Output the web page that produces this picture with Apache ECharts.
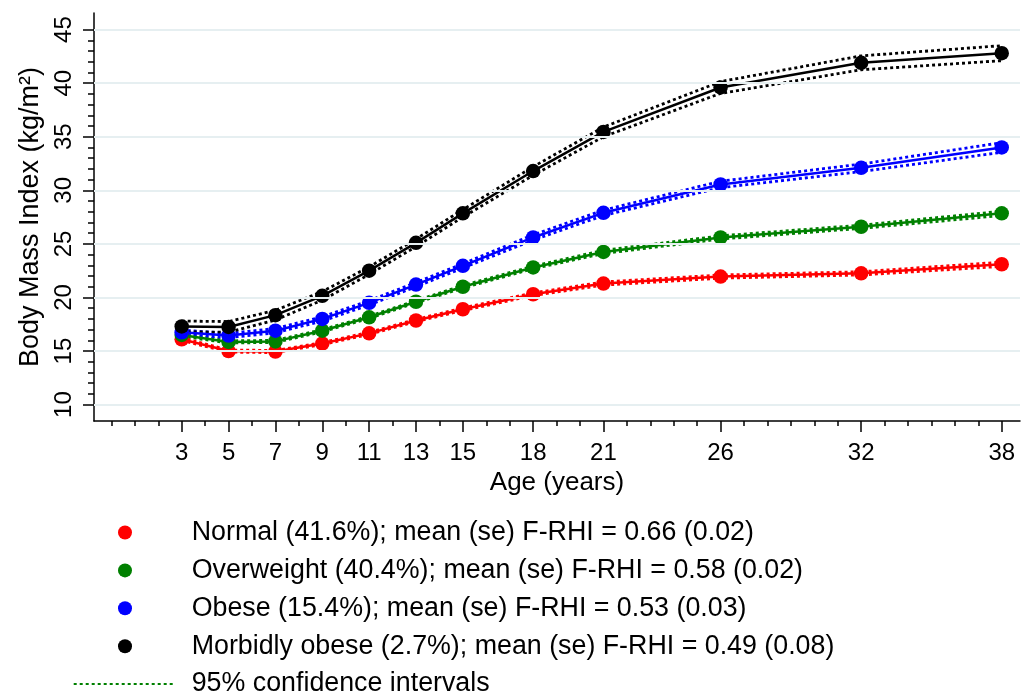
<!DOCTYPE html>
<html>
<head>
<meta charset="utf-8">
<script src="https://cdn.jsdelivr.net/npm/echarts@6/dist/echarts.min.js"></script>
<style>
html,body{margin:0;padding:0;background:#ffffff;}
#chart{width:1021px;height:695px;}
</style>
</head>
<body>
<div id="chart"></div>
<script>
// ---- data ----
const ages = [3, 5, 7, 9, 11, 13, 15, 18, 21, 26, 32, 38];
const xMajorTicks = [3, 5, 7, 9, 11, 13, 15, 18, 21, 26, 32, 38];
const xMinorTicks = [0,1,2,3,4,5,6,7,8,9,10,11,12,13,14,15,16,17,18,19,20,21,22,23,24,25,26,27,28,29,30,31,32,33,34,35,36,37,38];
const yMajorTicks = [10, 15, 20, 25, 30, 35, 40, 45];
const yMinorTicks = [10,11,12,13,14,15,16,17,18,19,20,21,22,23,24,25,26,27,28,29,30,31,32,33,34,35,36,37,38,39,40,41,42,43,44,45];

const groupNames = [
  "Normal (41.6%); mean (se) F-RHI = 0.66 (0.02)",
  "Overweight (40.4%); mean (se) F-RHI = 0.58 (0.02)",
  "Obese (15.4%); mean (se) F-RHI = 0.53 (0.03)",
  "Morbidly obese (2.7%); mean (se) F-RHI = 0.49 (0.08)"
];
const ciName = "95% confidence intervals";

const normalBMI   = [16.1, 15.0, 14.95, 15.7, 16.65, 17.85, 18.9, 20.3, 21.3, 21.95, 22.25, 23.1];
const normalLo    = [15.98, 14.9, 14.85, 15.6, 16.55, 17.75, 18.78, 20.18, 21.15, 21.8, 22.1, 22.9];
const normalHi    = [16.22, 15.1, 15.05, 15.8, 16.75, 17.95, 19.02, 20.42, 21.45, 22.1, 22.4, 23.3];

const overBMI     = [16.5, 15.85, 15.9, 16.9, 18.15, 19.6, 21.0, 22.8, 24.25, 25.6, 26.6, 27.85];
const overLo      = [16.38, 15.75, 15.8, 16.8, 18.05, 19.5, 20.88, 22.68, 24.1, 25.45, 26.45, 27.65];
const overHi      = [16.62, 15.95, 16.0, 17.0, 18.25, 19.7, 21.12, 22.92, 24.4, 25.75, 26.75, 28.05];

const obeseBMI    = [16.75, 16.45, 16.9, 18.0, 19.5, 21.2, 22.95, 25.6, 27.9, 30.55, 32.1, 34.0];
const obeseLo     = [16.55, 16.25, 16.7, 17.8, 19.3, 21.0, 22.75, 25.35, 27.65, 30.25, 31.75, 33.55];
const obeseHi     = [16.95, 16.65, 17.1, 18.2, 19.7, 21.4, 23.15, 25.85, 28.15, 30.85, 32.45, 34.45];

const morbidBMI   = [17.3, 17.25, 18.35, 20.15, 22.5, 25.1, 27.85, 31.8, 35.45, 39.6, 41.9, 42.8];
const morbidLo    = [16.8, 16.75, 17.9, 19.75, 22.15, 24.75, 27.5, 31.4, 35.0, 39.05, 41.25, 42.1];
const morbidHi    = [17.8, 17.75, 18.8, 20.55, 22.85, 25.45, 28.2, 32.2, 35.9, 40.15, 42.55, 43.5];

const colors = ['#ff0000', '#008000', '#0000ff', '#000000'];

// ---- build ----
const FONT = 'Liberation Sans, Arial, Helvetica, sans-serif';
const pairs = arr => ages.map((a, i) => [a, arr[i]]);

const groups = [
  {name: groupNames[0], mean: normalBMI, lo: normalLo, hi: normalHi, color: colors[0]},
  {name: groupNames[1], mean: overBMI,   lo: overLo,   hi: overHi,   color: colors[1]},
  {name: groupNames[2], mean: obeseBMI,  lo: obeseLo,  hi: obeseHi,  color: colors[2]},
  {name: groupNames[3], mean: morbidBMI, lo: morbidLo, hi: morbidHi, color: colors[3]}
];

const series = [];
// horizontal grid lines at the major y ticks
series.push({
  type: 'line', name: 'gridlines', data: [], silent: true, z: 0,
  markLine: {
    silent: true, symbol: ['none', 'none'], label: {show: false},
    lineStyle: {color: '#e6eff1', width: 2, type: 'solid'},
    emphasis: {disabled: true},
    data: yMajorTicks.map(v => ({yAxis: v}))
  }
});
// CI lines (green first so the legend icon uses green)
const ciOrder = [1, 0, 2, 3];
ciOrder.forEach(k => {
  const g = groups[k];
  [g.hi, g.lo].forEach(arr => {
    series.push({
      type: 'line', name: ciName, data: pairs(arr), symbol: 'none', z: 2,
      lineStyle: {color: g.color, width: 2.8, type: [3, 3]},
      itemStyle: {color: g.color},
      emphasis: {disabled: true}
    });
  });
});
// mean lines
groups.forEach(g => {
  series.push({
    type: 'line', name: g.name, data: pairs(g.mean), symbol: 'circle', symbolSize: 14.5, z: 3,
    lineStyle: {color: g.color, width: 2.5},
    itemStyle: {color: g.color},
    emphasis: {disabled: true}
  });
});

const axisBlack = {color: '#000', width: 1.5};
const xMin = -0.743, xMax = 38.78, yMin = 8.47, yMax = 46.55;
const LEGEND_FONT = 26.8;

const option = {
  animation: false,
  backgroundColor: '#ffffff',
  textStyle: {fontFamily: FONT},
  grid: {left: 94, right: 1, top: 13, bottom: 274, containLabel: false},
  xAxis: [
    {
      type: 'value', min: xMin, max: xMax, position: 'bottom',
      axisLine: {show: true, onZero: false, lineStyle: axisBlack},
      axisTick: {show: true, customValues: xMajorTicks, length: 11, lineStyle: axisBlack},
      axisLabel: {show: true, customValues: xMajorTicks, fontSize: 24, margin: 20, color: '#000', fontFamily: FONT},
      splitLine: {show: false},
      name: 'Age (years)', nameLocation: 'middle', nameGap: 47,
      nameTextStyle: {fontSize: 26, color: '#000', fontFamily: FONT}
    },
    {
      type: 'value', min: xMin, max: xMax, position: 'bottom',
      axisLine: {show: false, onZero: false},
      axisTick: {show: true, customValues: xMinorTicks, length: 5, lineStyle: axisBlack},
      axisLabel: {show: false},
      splitLine: {show: false}
    }
  ],
  yAxis: [
    {
      type: 'value', min: yMin, max: yMax, position: 'left',
      axisLine: {show: true, onZero: false, lineStyle: axisBlack},
      axisTick: {show: true, customValues: yMajorTicks, length: 11, lineStyle: axisBlack},
      axisLabel: {show: true, customValues: yMajorTicks, rotate: 90, fontSize: 24, margin: 18, color: '#000', fontFamily: FONT},
      splitLine: {show: false},
      name: 'Body Mass Index (kg/m²)', nameLocation: 'middle', nameRotate: 90, nameGap: 50,
      nameTextStyle: {fontSize: 27, color: '#000', fontFamily: FONT}
    },
    {
      type: 'value', min: yMin, max: yMax, position: 'left',
      axisLine: {show: false, onZero: false},
      axisTick: {show: true, customValues: yMinorTicks, length: 6, lineStyle: axisBlack},
      axisLabel: {show: false},
      splitLine: {show: false}
    }
  ],
  legend: [
    {
      orient: 'vertical', left: 62.3, top: 519, padding: 0,
      itemWidth: 123.4, itemHeight: 17.5, itemGap: 10.9,
      data: groupNames.map(n => ({name: n, lineStyle: {opacity: 0}})),
      textStyle: {fontSize: LEGEND_FONT, lineHeight: LEGEND_FONT, color: '#000', fontFamily: FONT}
    },
    {
      orient: 'vertical', left: 72.7, top: 670.5, padding: 0,
      itemWidth: 101.3, itemHeight: 14,
      data: [{name: ciName, itemStyle: {opacity: 0}}],
      textStyle: {fontSize: LEGEND_FONT, lineHeight: LEGEND_FONT, color: '#000', fontFamily: FONT, padding: [0, 0, 0, 11.7]}
    }
  ],
  series: series
};

const chart = echarts.init(document.getElementById('chart'), null, {renderer: 'canvas'});
chart.setOption(option);
</script>
</body>
</html>
